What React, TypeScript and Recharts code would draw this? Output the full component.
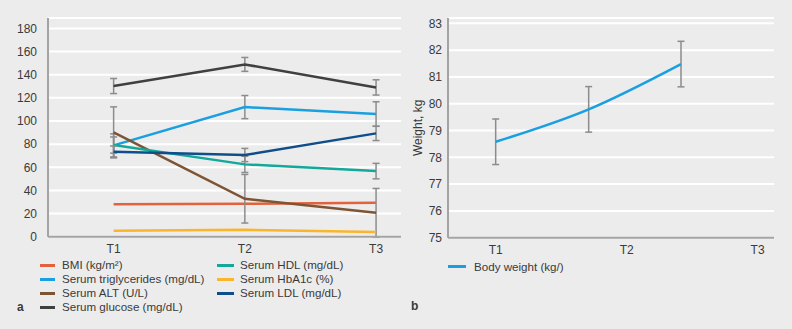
import { LineChart, Line, XAxis, YAxis, CartesianGrid, ErrorBar } from 'recharts';

// time points shared by both panels
const periods = ['T1', 'T2', 'T3'];
const periodX = [0, 1, 2];

// panel a: laboratory values, mean and SD at each time point (SD not plotted for BMI / HbA1c)
const bmi = [28.0, 28.5, 29.4];
const triglycerides = [78.9, 112.0, 106.0];
const triglyceridesSd = [10, 10, 10.6];
const alt = [90.2, 32.8, 20.7];
const altSd = [22, 21, 21];
const glucose = [130.2, 148.9, 129.0];
const glucoseSd = [6.5, 6, 6.6];
const hdl = [79.2, 62.5, 56.7];
const hdlSd = [7, 7, 6.7];
const hba1c = [5.2, 6.0, 4.0];
const ldl = [73.4, 70.6, 89.3];
const ldlSd = [5, 5.7, 6.2];
const leftTicks = [0, 20, 40, 60, 80, 100, 120, 140, 160, 180];

// panel b: body weight, measured at uneven offsets along the T axis
const weightX = [0, 0.71, 1.415];
const weight = [78.58, 79.79, 81.48];
const weightSd = [0.85, 0.85, 0.85];
const rightTicks = [75, 76, 77, 78, 79, 80, 81, 82, 83];

type Series = { key: string; name: string; color: string; values: number[]; sd?: number[] };

const seriesA: Series[] = [
  { key: 'bmi', name: 'BMI (kg/m²)', color: '#e3623e', values: bmi },
  { key: 'tg', name: 'Serum triglycerides (mg/dL)', color: '#1a9fe0', values: triglycerides, sd: triglyceridesSd },
  { key: 'alt', name: 'Serum ALT (U/L)', color: '#7d5535', values: alt, sd: altSd },
  { key: 'glu', name: 'Serum glucose (mg/dL)', color: '#404040', values: glucose, sd: glucoseSd },
  { key: 'hdl', name: 'Serum HDL (mg/dL)', color: '#12a99b', values: hdl, sd: hdlSd },
  { key: 'hba1c', name: 'Serum HbA1c (%)', color: '#fbb52a', values: hba1c },
  { key: 'ldl', name: 'Serum LDL (mg/dL)', color: '#0f4e8a', values: ldl, sd: ldlSd },
];

const rowsA = periodX.map((x, i) => {
  const row: Record<string, number> = { x };
  seriesA.forEach((s) => {
    row[s.key] = s.values[i];
    if (s.sd) row[s.key + 'Sd'] = s.sd[i];
  });
  return row;
});

const rowsB = weightX.map((x, i) => ({ x, weight: weight[i], weightSd: weightSd[i] }));

const textColor = '#3a3a3a';
const axisColor = '#a3a3a3';
const errColor = '#8c8c8c';
const fontFamily = '"Liberation Sans", Arial, sans-serif';

const tickLabel = (v: number) => periods[periodX.indexOf(v)] ?? '';

function LegendItem({ color, label, x, y, w, textX }: { color: string; label: string; x: number; y: number; w: number; textX: number }) {
  return (
    <>
      <div style={{ position: 'absolute', left: x, top: y - 1.5, width: w, height: 3, background: color }} />
      <div style={{ position: 'absolute', left: textX, top: y - 8, lineHeight: '16px', fontSize: 11.6, color: textColor, whiteSpace: 'nowrap' }}>
        {label}
      </div>
    </>
  );
}

export default function App() {
  const col1 = seriesA.slice(0, 4);
  const col2 = seriesA.slice(4);
  return (
    <div style={{ position: 'fixed', left: 0, top: 0, width: 792, height: 329, background: '#ececec', overflow: 'hidden', fontFamily }}>
      <div style={{ position: 'absolute', left: 0, top: 0 }}>
        <LineChart width={410} height={329} data={rowsA} margin={{ top: 18, right: 9, bottom: 62.3, left: 0 }}>
          <CartesianGrid vertical={false} stroke="#ffffff" strokeWidth={2} />
          <XAxis
            type="number"
            dataKey="x"
            domain={[-0.5, 2.19]}
            ticks={periodX}
            interval={0}
            tickFormatter={tickLabel}
            allowDataOverflow
            height={30}
            tickLine={false}
            axisLine={{ stroke: axisColor, strokeWidth: 2 }}
            tick={{ fill: textColor, fontSize: 12 }}
          />
          <YAxis
            domain={[0, 189]}
            ticks={leftTicks}
            interval={0}
            allowDataOverflow
            width={48}
            tickLine={false}
            tickSize={6}
            tickMargin={5}
            axisLine={{ stroke: axisColor, strokeWidth: 2 }}
            tick={{ fill: textColor, fontSize: 12 }}
          />
          {seriesA.map((s) => (
            <Line
              key={s.key}
              type="linear"
              dataKey={s.key}
              stroke={s.color}
              strokeWidth={2.5}
              dot={false}
              activeDot={false}
              isAnimationActive={false}
            >
              {s.sd && (
                <ErrorBar dataKey={s.key + 'Sd'} width={3.5} stroke={errColor} strokeWidth={1.5} isAnimationActive={false} />
              )}
            </Line>
          ))}
        </LineChart>
      </div>

      <div style={{ position: 'absolute', left: 400, top: 0 }}>
        <LineChart width={392} height={329} data={rowsB} margin={{ top: 18, right: 18, bottom: 61.3, left: 0 }}>
          <CartesianGrid vertical={false} stroke="#ffffff" strokeWidth={2} />
          <XAxis
            type="number"
            dataKey="x"
            domain={[-0.364, 2.125]}
            ticks={periodX}
            interval={0}
            tickFormatter={tickLabel}
            allowDataOverflow
            height={30}
            tickLine={false}
            axisLine={{ stroke: axisColor, strokeWidth: 2 }}
            tick={{ fill: textColor, fontSize: 12 }}
          />
          <YAxis
            domain={[75, 83.2]}
            ticks={rightTicks}
            interval={0}
            allowDataOverflow
            width={48}
            tickLine={false}
            tickSize={4}
            tickMargin={2}
            axisLine={{ stroke: axisColor, strokeWidth: 2 }}
            tick={{ fill: textColor, fontSize: 12 }}
            label={{ value: 'Weight, kg', angle: -90, position: 'insideLeft', offset: 18, style: { textAnchor: 'middle', fill: textColor, fontSize: 12 } }}
          />
          <Line
            type="monotone"
            dataKey="weight"
            stroke="#1a9fe0"
            strokeWidth={2.5}
            dot={false}
            activeDot={false}
            isAnimationActive={false}
          >
            <ErrorBar dataKey="weightSd" width={3.5} stroke={errColor} strokeWidth={1.5} isAnimationActive={false} />
          </Line>
        </LineChart>
      </div>

      {col1.map((s, i) => (
        <LegendItem key={s.key} color={s.color} label={s.name} x={40} y={265 + i * 14} w={15} textX={62} />
      ))}
      {col2.map((s, i) => (
        <LegendItem key={s.key} color={s.color} label={s.name} x={217} y={265 + i * 14} w={17} textX={240} />
      ))}
      <LegendItem color="#1a9fe0" label="Body weight (kg/)" x={448} y={266.5} w={18} textX={474} />

      <div style={{ position: 'absolute', left: 17, top: 300, fontSize: 12, fontWeight: 'bold', color: textColor }}>a</div>
      <div style={{ position: 'absolute', left: 411, top: 299, fontSize: 12, fontWeight: 'bold', color: textColor }}>b</div>
    </div>
  );
}
